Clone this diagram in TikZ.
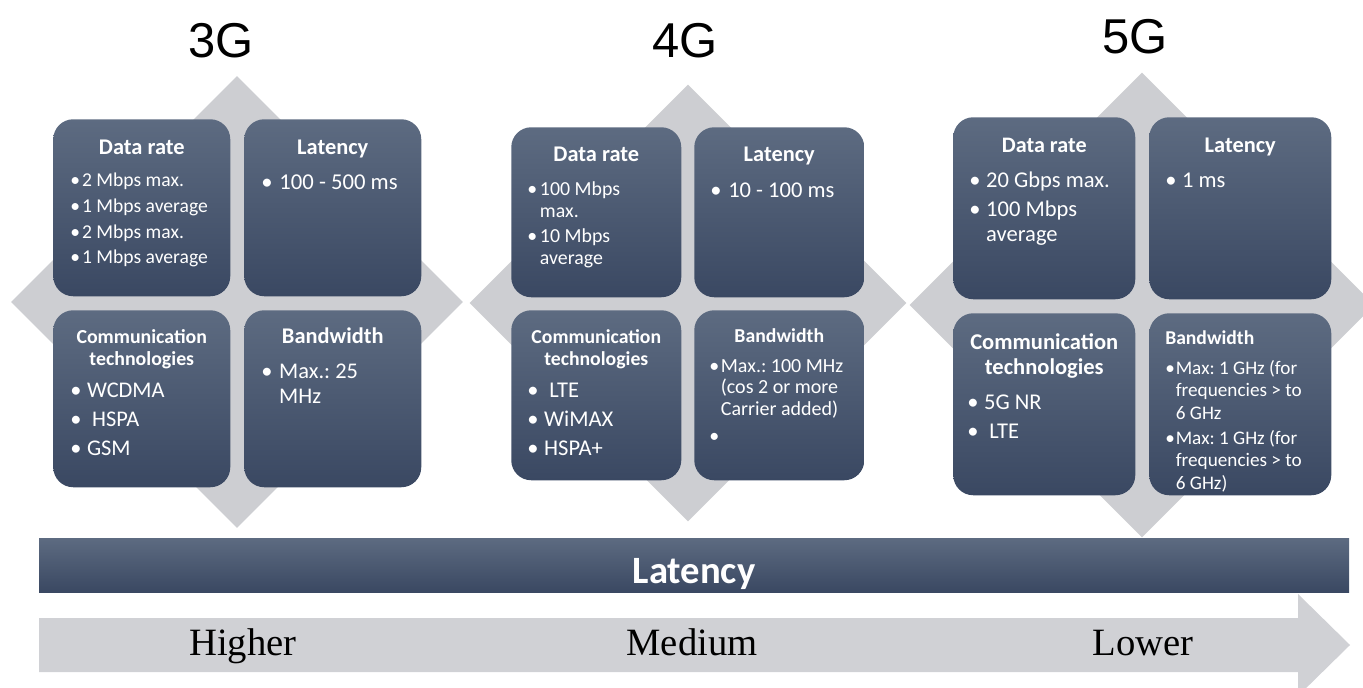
\documentclass[tikz,border=0pt]{standalone}
\usepackage{fontspec}
\setmainfont{Carlito}
\newfontfamily\genfont{Liberation Sans}
\newfontfamily\scalefont{Liberation Serif}
\usepackage{tikz}
\usetikzlibrary{shapes.geometric,positioning}
\definecolor{cardtop}{HTML}{5D6B81}
\definecolor{cardbot}{HTML}{3A4862}
\definecolor{diagray}{HTML}{CDCED2}
\definecolor{arrowgray}{HTML}{D0D1D5}
\frenchspacing
% heading of a card: [size]{gap below}{text}
\newcommand{\hd}[3][16.8]{{\centering\bfseries\fontsize{#1}{#1}\selectfont\setlength{\baselineskip}{1.11em}#3\par}\vspace{#2}}
\newcommand{\hdl}[3][14.7]{{\bfseries\fontsize{#1}{#1}\selectfont #3\par}\vspace{#2}}
% bullet item: [bullet width]{text}
\newcommand{\itm}[2][0.75em]{\par\setlength{\hangindent}{#1}\hangafter=1\relax\noindent\makebox[#1][l]{\textbullet}#2\par}
\newcommand{\nl}{\hfil\break}
\newcommand{\gap}[1]{\setlength{\parskip}{#1}}

\begin{document}
\begin{tikzpicture}[x=0.75pt,y=-0.75pt]
        %
        % `card' is the shaded rounded box, `cardtxt' its text.
        % `dia' is the grey diamond behind each group of cards.
        \tikzstyle{card} = [rounded corners=15pt,top color=cardtop,bottom color=cardbot,inner sep=0pt,anchor=north west]
        \tikzstyle{cardtxt} = [text=white,align=flush left,inner sep=0pt]
        \tikzstyle{dia} = [diamond,aspect=1,fill=diagray,inner sep=0pt]
        \tikzstyle{gen} = [font=\genfont\fontsize{36.7}{40}\selectfont]
        \tikzstyle{scaletxt} = [anchor=base,font=\scalefont\fontsize{29}{32}\selectfont]
        \useasboundingbox (0,0) rectangle (1363,688);
        %
        % Titles
        \node[gen] (g3) at (221,41) {3G};
        \node[gen] (g4) at (685,41) {4G};
        \node[gen] (g5) at (1135,37) {5G};
        %
        % Diamonds
        \node[dia,minimum size=339pt] (dia3) at (237,302) {};
        \node[dia,minimum size=327.75pt] (dia4) at (688,303) {};
        \node[dia,minimum size=348.75pt] (dia5) at (1142,305) {};
        %
        % 3G
        \node[card,minimum size=132.75pt] (dr3) at (53,119) {};
        \node[card,minimum size=132.75pt] (la3) at (244,119) {};
        \node[card,minimum size=132.75pt] (ct3) at (53,310) {};
        \node[card,minimum size=132.75pt] (bw3) at (244,310) {};
        \node[cardtxt,text width=107.25pt,below=15.75pt of dr3.north,
              font=\fontsize{14.7}{17}\selectfont] (dr3t)
              {\gap{2.3pt}\hd{4.7pt}{Data rate}\itm[0.6em]{2 Mbps max.}\itm[0.6em]{1 Mbps average}\itm[0.6em]{2 Mbps max.}\itm[0.6em]{1 Mbps average}};
        \node[cardtxt,text width=107.25pt,below=15.75pt of la3.north,
              font=\fontsize{17}{20}\selectfont] (la3t)
              {\gap{0pt}\hd{6pt}{Latency}\itm[0.8em]{100 - 500 ms}};
        \node[cardtxt,text width=107.25pt,below=14.25pt of ct3.north,
              font=\fontsize{16.8}{19.3}\selectfont] (ct3t)
              {\gap{2.7pt}\hd[14.9]{2pt}{Communication technologies}\itm{WCDMA}\itm{~HSPA}\itm{GSM}};
        \node[cardtxt,text width=107.25pt,below=13.5pt of bw3.north,
              font=\fontsize{16.8}{18.75}\selectfont] (bw3t)
              {\gap{0pt}\hd{7.25pt}{Bandwidth}\itm[0.8em]{Max.: 25\nl MHz}};
        %
        % 4G
        \node[card,minimum size=127.5pt] (dr4) at (511,127) {};
        \node[card,minimum size=127.5pt] (la4) at (694,127) {};
        \node[card,minimum size=127.5pt] (ct4) at (511,310) {};
        \node[card,minimum size=127.5pt] (bw4) at (694,310) {};
        \node[cardtxt,text width=103.5pt,below=15pt of dr4.north,
              font=\fontsize{14.9}{16.5}\selectfont] (dr4t)
              {\gap{2.25pt}\hd{6.75pt}{Data rate}\itm[0.64em]{100 Mbps\nl max.}\itm[0.64em]{10 Mbps\nl average}};
        \node[cardtxt,text width=103.5pt,below=15pt of la4.north,
              font=\fontsize{16.9}{20}\selectfont] (la4t)
              {\gap{0pt}\hd{7pt}{Latency}\itm[0.8em]{10 - 100 ms}};
        \node[cardtxt,text width=103.5pt,below=14.25pt of ct4.north,
              font=\fontsize{16.9}{19.5}\selectfont] (ct4t)
              {\gap{2.5pt}\hd[14.8]{2pt}{Communication technologies}\itm{~LTE}\itm{WiMAX}\itm{HSPA+}};
        \node[cardtxt,text width=105pt,below=13.5pt of bw4.north,
              font=\fontsize{15}{16.3}\selectfont] (bw4t)
              {\gap{4pt}\hd[14.8]{2.2pt}{Bandwidth}\itm[0.58em]{Max.: 100 MHz\nl (cos 2 or more\nl Carrier added)}\itm[0.58em]{}};
        %
        % 5G
        \node[card,minimum size=136.5pt] (dr5) at (953,117) {};
        \node[card,minimum size=136.5pt] (la5) at (1149,117) {};
        \node[card,minimum size=136.5pt] (ct5) at (953,313) {};
        \node[card,minimum size=136.5pt] (bw5) at (1149,313) {};
        \node[cardtxt,text width=112.5pt,below=15.75pt of dr5.north,
              font=\fontsize{16.9}{18.75}\selectfont] (dr5t)
              {\gap{3pt}\hd[16.6]{4.5pt}{Data rate}\itm{20 Gbps max.}\itm{100 Mbps\nl average}};
        \node[cardtxt,text width=112.5pt,below=15.75pt of la5.north,
              font=\fontsize{16.9}{18.75}\selectfont] (la5t)
              {\gap{0pt}\hd{7.5pt}{Latency}\itm{1 ms}};
        \node[cardtxt,text width=115.5pt,below=15pt of ct5.north,
              font=\fontsize{16.9}{18.75}\selectfont] (ct5t)
              {\gap{3pt}\hd[16.9]{4.5pt}{Communication technologies}\itm{5G NR}\itm{~LTE}};
        \node[cardtxt,text width=112.5pt,below=12.75pt of bw5.north,
              font=\fontsize{14.4}{16.9}\selectfont] (bw5t)
              {\gap{1.9pt}\hdl[14.7]{3.7pt}{Bandwidth}\itm[0.55em]{Max: 1 GHz (for\nl frequencies > to\nl 6 GHz}\itm[0.55em]{Max: 1 GHz (for\nl frequencies > to\nl 6 GHz)}};
        %
        % Latency bar
        \node[top color=cardtop,bottom color=cardbot,minimum width=982.5pt,minimum height=40.5pt,inner sep=0pt] (bar) at (694,565) {};
        \node[text=white,font=\bfseries\fontsize{29}{32}\selectfont] (bart) at (694,574) {Latency};
        %
        % Arrow
        \fill[arrowgray] (39,618) -- (1298,618) -- (1298,594) -- (1350,645)
              -- (1298,696) -- (1298,672) -- (39,672) -- cycle;
        \node[scaletxt] (hi) at (243,655) {Higher};
        \node[scaletxt] (me) at (692,655) {Medium};
        \node[scaletxt] (lo) at (1143,655) {Lower};
        %
\end{tikzpicture}
\end{document}
